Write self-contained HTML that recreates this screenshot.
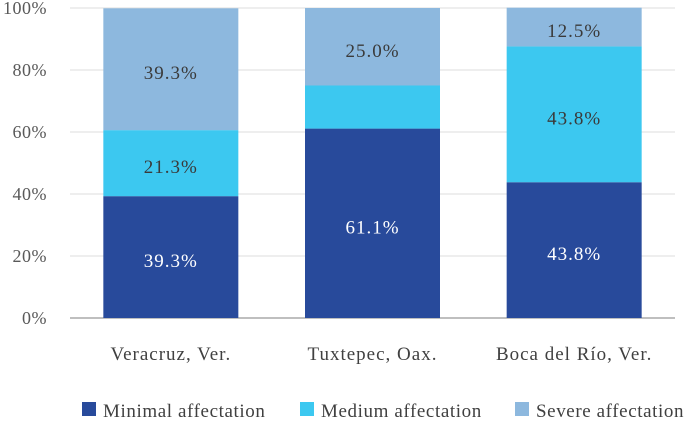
<!DOCTYPE html>
<html><head><meta charset="utf-8"><style>
body{margin:0;background:#fff;}
svg text{font-family:"Liberation Serif",serif;}
</style></head><body>
<svg id="chart" width="691" height="418" xmlns="http://www.w3.org/2000/svg"></svg>
<script>
const categories=["Veracruz, Ver.","Tuxtepec, Oax.","Boca del Río, Ver."];
const minimal=[39.3,61.1,43.8];
const medium=[21.3,13.9,43.8];
const severe=[39.3,25.0,12.5];
const showMedium=[true,false,true];
const yTicks=[0,20,40,60,80,100];
const seriesNames=["Minimal affectation","Medium affectation","Severe affectation"];
const colors=["#284a9b","#3cc8f0","#8db8de"];
const textColors=["#ffffff","#3a3a3a","#3a3a3a"];
const svg=document.getElementById('chart');
const NS="http://www.w3.org/2000/svg";
const y0=318,y1=8,x0=70,x1=675;
const y=v=>y0-(v/100)*(y0-y1);
const bw=135,step=(x1-x0)/categories.length;
const cx=i=>x0+step*(i+0.5);
function el(t,a,p){const e=document.createElementNS(NS,t);for(const k in a)e.setAttribute(k,a[k]);(p||svg).appendChild(e);return e;}
yTicks.forEach(t=>{
  const g=el('line',{x1:x0,x2:x1,y1:y(t),y2:y(t),stroke:t===0?'#bfbfbf':'#e3e3e3','stroke-width':t===0?2:1.2});
  
  
  const l=el('text',{x:47,y:y(t)+6,'text-anchor':'end','font-size':18,fill:'#595959','letter-spacing':0.5});
  l.textContent=t+'%';
  
  
});
const series=[minimal,medium,severe];
categories.forEach((c,i)=>{
  let acc=0;
  series.forEach((s,j)=>{
    const v=s[i];
    const r=el('rect',{x:cx(i)-bw/2,y:y(acc+v),width:bw,height:y(acc)-y(acc+v),fill:colors[j]});
    
    
    if(j!==1||showMedium[i]){
      const t=el('text',{x:cx(i),y:(y(acc)+y(acc+v))/2+10,'text-anchor':'middle','font-size':19,fill:textColors[j],'letter-spacing':1});
      t.textContent=v.toFixed(1)+'%';
      
      
    }
    acc+=v;
  });
  const xl=el('text',{x:cx(i),y:360,'text-anchor':'middle','font-size':19,fill:'#404040','letter-spacing':1});
  xl.textContent=c;
  
  
});
const lx=[82,300,515];
seriesNames.forEach((n,j)=>{
  const r=el('rect',{x:lx[j],y:402,width:14,height:14,fill:colors[j]});
  
  
  const t=el('text',{x:lx[j]+21,y:417,'font-size':19,fill:'#404040','letter-spacing':0.6});
  t.textContent=n;
  
  
});
</script>
</body></html>
